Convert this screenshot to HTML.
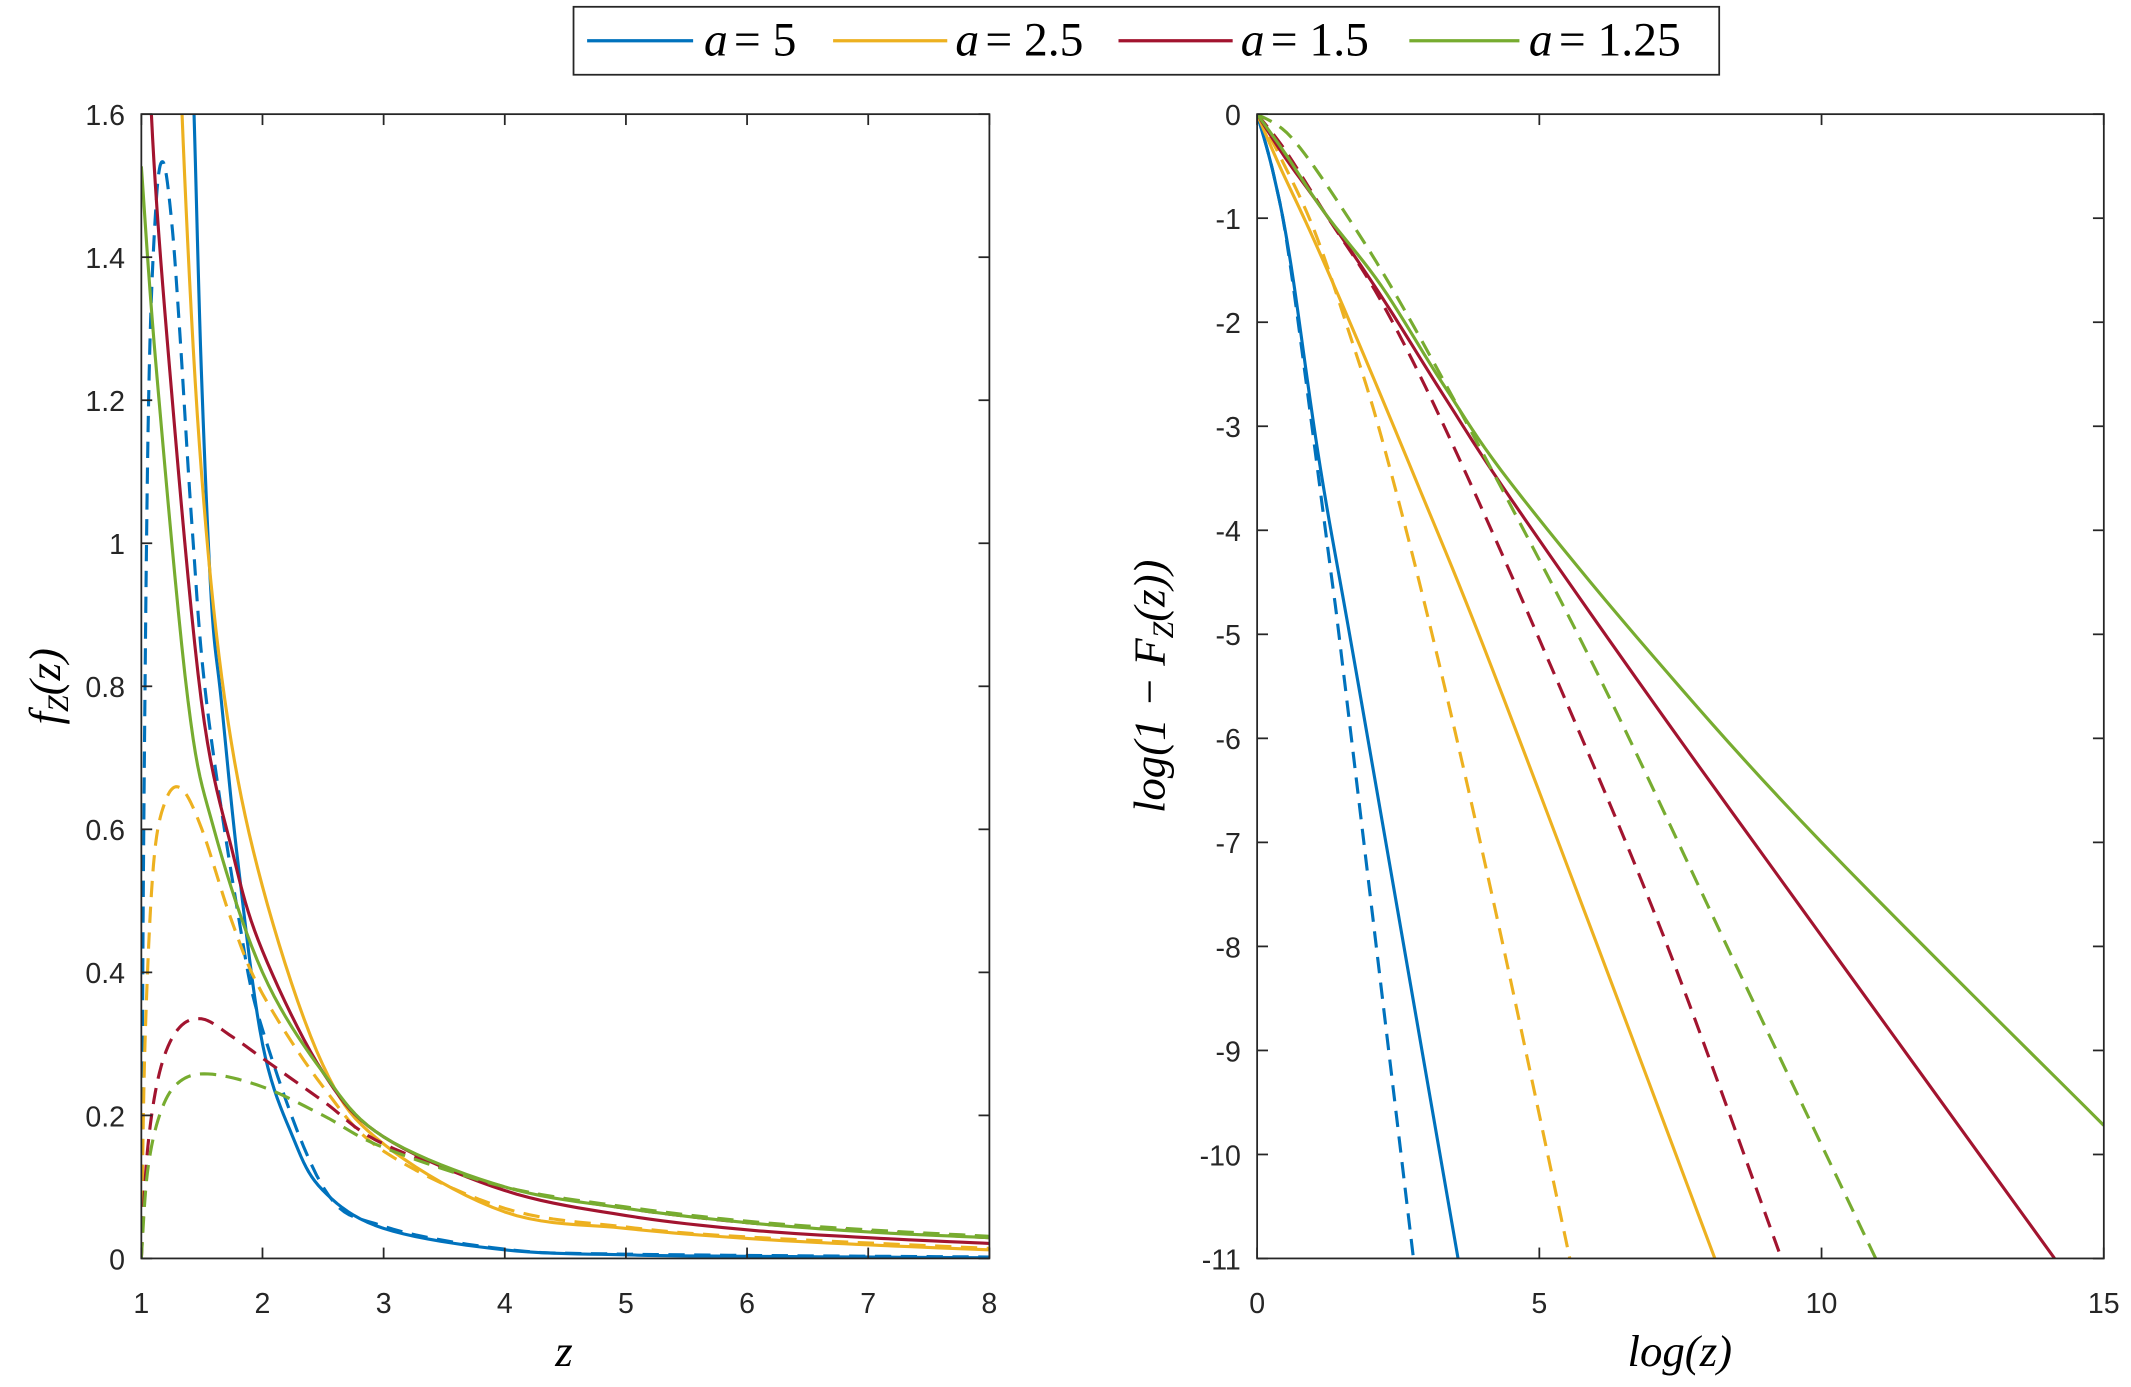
<!DOCTYPE html>
<html><head><meta charset="utf-8"><style>
html,body{margin:0;padding:0;background:#fff}
svg{display:block}
.t{font-family:"Liberation Sans",sans-serif;font-size:21px;fill:#262626}
.m{font-family:"Liberation Serif",serif;font-style:italic;fill:#000}
</style></head><body>
<svg id="s" width="2131" height="1387" viewBox="0 0 1568 1020.6" preserveAspectRatio="none" xmlns="http://www.w3.org/2000/svg">
<rect width="1568" height="1021" fill="#fff"/>
<g id="curves"></g>
<g stroke="#262626" stroke-width="1.3" fill="none">
<rect x="104" y="84" width="624" height="842"/>
<rect x="925" y="84" width="623" height="842"/>
<g id="ticks"></g>
</g>
<g id="labels"></g>
<text class="m" x="415" y="1005" font-size="33" text-anchor="middle">z</text>
<text class="m" x="1236" y="1005" font-size="33" text-anchor="middle">log(z)</text>
<text class="m" font-size="33" text-anchor="middle" transform="translate(44,505) rotate(-90)">f<tspan font-size="22" dy="6">Z</tspan><tspan dy="-6">(z)</tspan></text>
<text class="m" font-size="33" text-anchor="middle" transform="translate(857,505) rotate(-90)">log(1 − F<tspan font-size="22" dy="6">Z</tspan><tspan dy="-6">(z))</tspan></text>
<rect x="422" y="5" width="843" height="50" fill="#fff" stroke="#262626" stroke-width="1.3"/>
<g stroke-width="2.4">
<line x1="432" y1="30" x2="510" y2="30" stroke="#0072BD"/>
<line x1="613" y1="30" x2="697" y2="30" stroke="#EDB120"/>
<line x1="823" y1="30" x2="907" y2="30" stroke="#A2142F"/>
<line x1="1037" y1="30" x2="1118" y2="30" stroke="#77AC30"/>
</g>
<g class="m" font-size="35">
<text x="518" y="41">a<tspan font-style="normal" x="540">= 5</tspan></text>
<text x="703" y="41">a<tspan font-style="normal" x="725">= 2.5</tspan></text>
<text x="913" y="41">a<tspan font-style="normal" x="935">= 1.5</tspan></text>
<text x="1125" y="41">a<tspan font-style="normal" x="1147">= 1.25</tspan></text>
</g>
</svg>
<script>
var NS="http://www.w3.org/2000/svg";
function el(p,n,a,txt){var e=document.createElementNS(NS,n);for(var k in a)e.setAttribute(k,a[k]);if(txt!==undefined)e.textContent=txt;p.appendChild(e);return e;}
var C=document.getElementById("curves"),T=document.getElementById("ticks"),L=document.getElementById("labels");
function LX(z){return 104+89.14*(z-1);} function LY(v){return 926-526.25*v;}
function RX(x){return 925+41.53*x;} function RY(v){return 84-76.55*v;}
for(var z=1;z<=8;z++){var x=LX(z);el(T,"line",{x1:x,y1:926,x2:x,y2:918});el(T,"line",{x1:x,y1:84,x2:x,y2:92});el(L,"text",{class:"t",x:x,y:966,"text-anchor":"middle"},String(z));}
var yl=["0","0.2","0.4","0.6","0.8","1","1.2","1.4","1.6"];
for(var i=0;i<=8;i++){var y=LY(i*0.2);el(T,"line",{x1:104,y1:y,x2:112,y2:y});el(T,"line",{x1:728,y1:y,x2:720,y2:y});el(L,"text",{class:"t",x:92,y:y+8,"text-anchor":"end"},yl[i]);}
for(var k=0;k<=15;k+=5){var x=RX(k);el(T,"line",{x1:x,y1:926,x2:x,y2:918});el(T,"line",{x1:x,y1:84,x2:x,y2:92});el(L,"text",{class:"t",x:x,y:966,"text-anchor":"middle"},String(k));}
for(var j=0;j>=-11;j--){var y=RY(j);el(T,"line",{x1:925,y1:y,x2:933,y2:y});el(T,"line",{x1:1548,y1:y,x2:1540,y2:y});el(L,"text",{class:"t",x:913,y:y+8,"text-anchor":"end"},String(j));}
function path(pts,fx,fy,col,dash,clip){
 var d="";for(var i=0;i<pts.length;i++){d+=(i?"L":"M")+fx(pts[i][0]).toFixed(2)+","+fy(pts[i][1]).toFixed(2);}
 var a={d:d,fill:"none",stroke:col,"stroke-width":2.3,"stroke-linejoin":"round"};
 if(dash)a["stroke-dasharray"]="12 7";
 if(clip)a["clip-path"]="url(#"+clip+")";
 el(C,"path",a);
}
var defs=el(document.getElementById("s"),"defs",{});
var c1=el(defs,"clipPath",{id:"cl"});el(c1,"rect",{x:104,y:84,width:624,height:842});
var c2=el(defs,"clipPath",{id:"cr"});el(c2,"rect",{x:925,y:84,width:623,height:842});
function smooth(p){var o=[];for(var i=0;i<p.length-1;i++){var p0=p[Math.max(i-1,0)],p1=p[i],p2=p[i+1],p3=p[Math.min(i+2,p.length-1)];
 for(var t=0;t<1;t+=0.1){var t2=t*t,t3=t2*t;var f=function(a,b,c,d){return 0.5*((2*b)+(-a+c)*t+(2*a-5*b+4*c-d)*t2+(-a+3*b-3*c+d)*t3);};
 o.push([f(p0[0],p1[0],p2[0],p3[0]),f(p0[1],p1[1],p2[1],p3[1])]);}}o.push(p[p.length-1]);return o;}
var B="#0072BD",Y="#EDB120",R="#A2142F",G="#77AC30";
var Ls=[
[[[1.38,1.9],[1.435,1.6],[1.495,1.243],[1.578,0.92],[1.66,0.78],[1.8,0.55],[2,0.3],[2.25,0.17],[2.5,0.095],[3,0.042],[4,0.012],[5,0.005],[6,0.003],[8,0.001]],B,0],
[[[1,0],[1.02,0.6],[1.06,1.2],[1.12,1.47],[1.18,1.533],[1.25,1.45],[1.317,1.296],[1.42,1.02],[1.537,0.78],[1.8,0.48],[2,0.32],[2.5,0.1],[3,0.045],[4,0.013],[5,0.006],[8,0.002]],B,1],
[[[1.3,1.9],[1.336,1.6],[1.48,1.136],[1.69,0.78],[2,0.52],[2.5,0.27],[3,0.16],[4,0.065],[5,0.042],[6,0.028],[7,0.019],[8,0.012]],Y,0],
[[[1,0],[1.03,0.3],[1.1,0.55],[1.2,0.64],[1.33,0.657],[1.5,0.6],[1.75,0.47],[2,0.37],[2.5,0.24],[3,0.15],[4,0.07],[5,0.044],[6,0.03],[8,0.014]],Y,1],
[[[1.05,1.9],[1.083,1.6],[1.234,1.243],[1.495,0.78],[1.75,0.57],[2,0.43],[2.5,0.26],[3,0.17],[4,0.095],[5,0.06],[6,0.04],[7,0.029],[8,0.021]],R,0],
[[[1,0],[1.05,0.15],[1.15,0.26],[1.3,0.32],[1.5,0.335],[1.75,0.31],[2,0.28],[2.5,0.22],[3,0.16],[4,0.1],[5,0.07],[6,0.05],[7,0.038],[8,0.029]],R,1],
[[[1,1.527],[1.124,1.243],[1.385,0.78],[1.6,0.6],[2,0.4],[2.5,0.26],[3,0.17],[4,0.1],[5,0.07],[6,0.05],[7,0.037],[8,0.029]],G,0],
[[[1,0],[1.05,0.12],[1.15,0.2],[1.3,0.245],[1.55,0.258],[2,0.24],[2.5,0.2],[3,0.155],[4,0.1],[5,0.072],[6,0.052],[7,0.04],[8,0.031]],G,1]];
Ls.forEach(function(s){path(smooth(s[0]),LX,LY,s[1],s[2],"cl");});
var Rs=[
[[[0,0],[0.3,-0.6],[0.6,-1.45],[1.12,-3.4],[1.8,-5.5],[3.56,-11]],B,0],
[[[0,0],[0.3,-0.6],[0.6,-1.5],[1.28,-4.29],[1.56,-5.5],[2.77,-11]],B,1],
[[[0,0],[0.4,-0.5],[1.0,-1.2],[1.8,-2.2],[2.8,-3.5],[4.0,-5.1],[6,-7.95],[8.11,-11]],Y,0],
[[[0,0],[0.4,-0.4],[1.0,-1.1],[1.6,-2.05],[2.2,-3.1],[3.1,-5.0],[4.2,-7.6],[5.54,-11]],Y,1],
[[[0,0],[0.5,-0.42],[1.2,-0.95],[2.2,-1.75],[3.3,-2.7],[4.5,-3.7],[7,-5.64],[10,-7.9],[14.13,-11]],R,0],
[[[0,0],[0.5,-0.35],[1.2,-0.95],[2.2,-1.8],[3.4,-3.1],[5.2,-5.3],[7.2,-7.9],[9.29,-11]],R,1],
[[[0,0],[0.5,-0.38],[1.2,-0.95],[2.2,-1.65],[3.3,-2.6],[4.5,-3.55],[7,-5.2],[10,-7.0],[15,-9.72]],G,0],
[[[0,0],[0.6,-0.22],[1.5,-0.9],[2.63,-1.9],[4.53,-3.8],[6.27,-5.64],[8.5,-8.2],[10.96,-11]],G,1]];
Rs.forEach(function(s){path(smooth(s[0]),RX,RY,s[1],s[2],"cr");});
</script>
</body></html>
